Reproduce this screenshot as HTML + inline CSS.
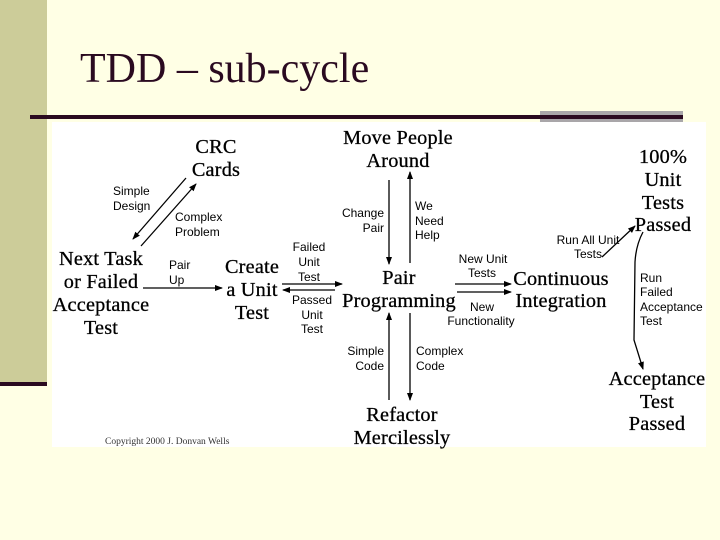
<!DOCTYPE html>
<html><head><style>
body{margin:0;width:720px;height:540px;background:#FFFFE5;overflow:hidden;position:relative;font-family:"Liberation Sans",sans-serif}
.d{position:absolute}
</style></head><body>
<div class="d" style="left:0;top:0;width:47px;height:383px;background:#CCCC99"></div>
<div class="d" style="left:0;top:382px;width:47px;height:4px;background:#2A0A20"></div>
<div class="d" style="left:30px;top:115px;width:512px;height:4px;background:#2A0A20"></div>
<div class="d" style="left:540px;top:111px;width:143px;height:11px;background:#A9A6A9"></div>
<div class="d" style="left:540px;top:115px;width:143px;height:4px;background:#2A0A20"></div>
<div class="d" style="left:80px;top:45px;font:42px 'Liberation Serif',serif;color:#2A0A20">TDD – sub-cycle</div>
<svg class="d" style="left:0;top:0" width="720" height="540">
<defs><marker id="a" markerWidth="8" markerHeight="8" refX="7" refY="4" orient="auto" markerUnits="userSpaceOnUse"><path d="M0,1 L8,4 L0,7z" fill="#000"/></marker></defs>
<rect x="52" y="122" width="654" height="325" fill="#fff"/>
<g stroke="#000" stroke-width="1.3" fill="none" marker-end="url(#a)">
<line x1="186" y1="178" x2="133" y2="239"/>
<line x1="141" y1="246" x2="196" y2="184"/>
<line x1="143" y1="288" x2="222" y2="288"/>
<line x1="282" y1="284" x2="342" y2="284"/>
<line x1="335" y1="290" x2="283" y2="290"/>
<line x1="389" y1="180" x2="389" y2="264"/>
<line x1="410" y1="263" x2="410" y2="172"/>
<line x1="389" y1="400" x2="389" y2="313"/>
<line x1="410" y1="313" x2="410" y2="400"/>
<line x1="455" y1="284" x2="511" y2="284"/>
<line x1="457" y1="292" x2="511" y2="292"/>
<line x1="602" y1="257" x2="635" y2="226"/>
<path d="M643,232 Q636,245 635,262 L634,340 L643,369"/>
</g>
<g font-family="Liberation Serif,serif" font-size="20.3" letter-spacing="0.2" text-anchor="middle" fill="#000" stroke="#000" stroke-width="0.3">
<text x="216" y="153">CRC</text><text x="216" y="176">Cards</text>
<text x="398" y="144">Move People</text><text x="398" y="167">Around</text>
<text x="663" y="163">100%</text><text x="663" y="186">Unit</text><text x="663" y="209">Tests</text><text x="663" y="231">Passed</text>
<text x="101" y="265">Next Task</text><text x="101" y="288">or Failed</text><text x="101" y="311">Acceptance</text><text x="101" y="334">Test</text>
<text x="252" y="273">Create</text><text x="252" y="296">a Unit</text><text x="252" y="319">Test</text>
<text x="399" y="284">Pair</text><text x="399" y="307">Programming</text>
<text x="561" y="285">Continuous</text><text x="561" y="307">Integration</text>
<text x="402" y="421">Refactor</text><text x="402" y="444">Mercilessly</text>
<text x="657" y="385">Acceptance</text><text x="657" y="408">Test</text><text x="657" y="430">Passed</text>
</g>
<g font-size="12" fill="#000">
<text x="113" y="195">Simple</text><text x="113" y="210">Design</text>
<text x="175" y="221">Complex</text><text x="175" y="236">Problem</text>
<text x="169" y="269">Pair</text><text x="169" y="284">Up</text>
<g text-anchor="middle"><text x="309" y="251">Failed</text><text x="309" y="266">Unit</text><text x="309" y="281">Test</text>
<text x="312" y="304">Passed</text><text x="312" y="319">Unit</text><text x="312" y="333">Test</text>
<text x="483" y="263">New Unit</text><text x="482" y="277">Tests</text>
<text x="482" y="311">New</text><text x="481" y="325">Functionality</text>
<text x="588" y="244">Run All Unit</text><text x="588" y="258">Tests</text></g>
<g text-anchor="end"><text x="384" y="217">Change</text><text x="384" y="232">Pair</text>
<text x="384" y="355">Simple</text><text x="384" y="370">Code</text></g>
<text x="415" y="210">We</text><text x="415" y="225">Need</text><text x="415" y="239">Help</text>
<text x="416" y="355">Complex</text><text x="416" y="370">Code</text>
<text x="640" y="282">Run</text><text x="640" y="296">Failed</text><text x="640" y="311">Acceptance</text><text x="640" y="325">Test</text>
</g>
<text x="105" y="444" font-family="Liberation Serif,serif" font-size="9.5" fill="#333">Copyright 2000 J. Donvan Wells</text>
</svg>
</body></html>
